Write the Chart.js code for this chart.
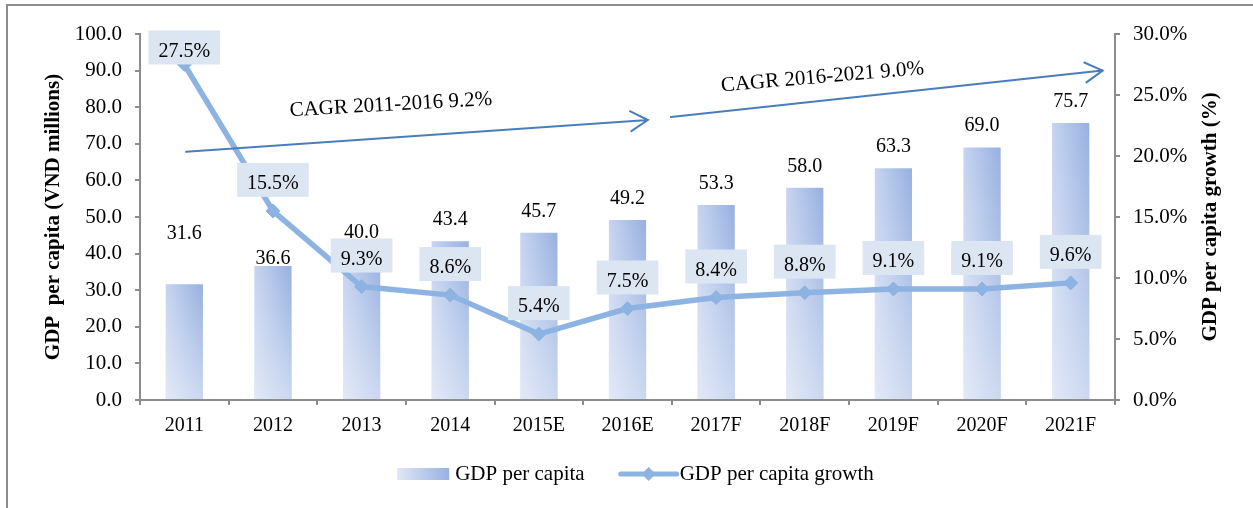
<!DOCTYPE html>
<html>
<head>
<meta charset="utf-8">
<title>GDP per capita</title>
<style>
  html, body { margin: 0; padding: 0; background: #fff; }
  #wrap { width: 1253px; height: 508px; }
</style>
</head>
<body>
<div id="wrap"><canvas id="gdpChart"></canvas></div>
<script src="https://cdn.jsdelivr.net/npm/chart.js@4/dist/chart.umd.min.js"></script>
<script>
// categories and series
var years = ['2011', '2012', '2013', '2014', '2015E', '2016E', '2017F', '2018F', '2019F', '2020F', '2021F'];
var gdpPerCapita = [31.6, 36.6, 40.0, 43.4, 45.7, 49.2, 53.3, 58.0, 63.3, 69.0, 75.7];
var gdpGrowth = [27.5, 15.5, 9.3, 8.6, 5.4, 7.5, 8.4, 8.8, 9.1, 9.1, 9.6];
var cagrNotes = ['CAGR 2011-2016 9.2%', 'CAGR 2016-2021 9.0%'];
var seriesNames = ['GDP per capita', 'GDP per capita growth'];
var axisTitles = ['GDP  per capita (VND millions)', 'GDP per capita growth (%)'];

var serif = '"Liberation Serif", "Times New Roman", serif';
var axisGray = '#8c8c8c';
var lineBlue = '#8db3e2';
var arrowBlue = '#4a7ebb';
var barShare = 0.42;

// how far each value label sits above its mark
var barLabelLift = [52, 9, 23, 23, 23, 23, 23, 23, 23, 23, 23];
var growthLabelLift = [17, 31, 31, 31, 31, 31, 31, 31, 31, 31, 31];

// CAGR arrows, in (category index, left-axis value)
var cagrArrows = [
  { from: [0.02, 67.8], to: [5.23, 76.5], text: [2.33, 80.6], angle: -3.2 },
  { from: [5.49, 77.3], to: [10.36, 90.0], text: [7.2, 88.2], angle: -4.9 }
];

function barGradient(ctx) {
  var chart = ctx.chart, x = chart.scales.x;
  if (!x || ctx.dataIndex === undefined) return '#b4c6ea';
  var cx = x.getPixelForValue(ctx.dataIndex);
  var half = x.width / years.length * barShare / 2;
  if (!isFinite(cx) || !isFinite(half)) return '#b4c6ea';
  var g = chart.ctx.createLinearGradient(cx - half, 0, cx + half, 0);
  g.addColorStop(0, '#c6d4f0');
  g.addColorStop(1, '#97b0e0');
  return g;
}

// lighten the lower part of each bar
var barSheen = {
  id: 'barSheen',
  afterDatasetDraw: function (chart, args) {
    if (args.index !== 0) return;
    var c = chart.ctx;
    c.save();
    args.meta.data.forEach(function (bar) {
      var p = bar.getProps(['x', 'y', 'base', 'width'], true);
      if (!isFinite(p.y) || !isFinite(p.base)) return;
      var g = c.createLinearGradient(0, p.base, 0, p.y);
      g.addColorStop(0, 'rgba(255,255,255,0.5)');
      g.addColorStop(1, 'rgba(255,255,255,0)');
      c.fillStyle = g;
      c.fillRect(p.x - p.width / 2, p.y, p.width, p.base - p.y);
    });
    c.restore();
  }
};

var frame = {
  id: 'frame',
  beforeDraw: function (chart) {
    var c = chart.ctx;
    c.save();
    c.fillStyle = '#fff';
    c.fillRect(0, 0, chart.width, chart.height);
    c.strokeStyle = axisGray;
    c.lineWidth = 2;
    c.beginPath();
    c.moveTo(7, chart.height);
    c.lineTo(7, 5);
    c.lineTo(chart.width, 5);
    c.stroke();
    c.restore();
  }
};

var valueLabels = {
  id: 'valueLabels',
  afterDatasetsDraw: function (chart) {
    var c = chart.ctx;
    c.save();
    c.font = '20px ' + serif;
    c.textAlign = 'center';
    c.textBaseline = 'alphabetic';
    c.fillStyle = '#000';
    chart.getDatasetMeta(0).data.forEach(function (bar, i) {
      c.fillText(gdpPerCapita[i].toFixed(1), bar.x, bar.y - barLabelLift[i] + 7);
    });
    chart.getDatasetMeta(1).data.forEach(function (pt, i) {
      var txt = gdpGrowth[i].toFixed(1) + '%';
      var w = c.measureText(txt).width + 20, h = 34;
      var cy = pt.y - growthLabelLift[i];
      c.fillStyle = '#dce6f2';
      c.fillRect(pt.x - w / 2, cy - h / 2, w, h);
      c.fillStyle = '#000';
      c.fillText(txt, pt.x, cy + 9);
    });
    c.restore();
  }
};

function drawArrow(c, x0, y0, x1, y1) {
  var a = Math.atan2(y1 - y0, x1 - x0), len = 20, spread = Math.PI / 6;
  c.beginPath();
  c.moveTo(x0, y0);
  c.lineTo(x1, y1);
  c.moveTo(x1 - len * Math.cos(a - spread), y1 - len * Math.sin(a - spread));
  c.lineTo(x1, y1);
  c.lineTo(x1 - len * Math.cos(a + spread), y1 - len * Math.sin(a + spread));
  c.stroke();
}

var extras = {
  id: 'extras',
  afterDraw: function (chart) {
    var c = chart.ctx, x = chart.scales.x, y = chart.scales.y, area = chart.chartArea;
    c.save();
    // CAGR arrows and notes
    c.strokeStyle = arrowBlue;
    c.lineWidth = 2;
    c.lineCap = 'round';
    c.fillStyle = '#000';
    c.font = '21px ' + serif;
    c.textAlign = 'center';
    c.textBaseline = 'middle';
    cagrArrows.forEach(function (a, i) {
      drawArrow(c, x.getPixelForValue(a.from[0]), y.getPixelForValue(a.from[1]),
        x.getPixelForValue(a.to[0]), y.getPixelForValue(a.to[1]));
      c.save();
      c.translate(x.getPixelForValue(a.text[0]), y.getPixelForValue(a.text[1]));
      c.rotate(a.angle * Math.PI / 180);
      c.fillText(cagrNotes[i], 0, 0);
      c.restore();
    });

    // right axis title, reading upwards
    c.save();
    c.font = 'bold 21px ' + serif;
    c.translate(1211, (area.top + area.bottom) / 2);
    c.rotate(-Math.PI / 2);
    c.fillText(axisTitles[1], 0, 0);
    c.restore();

    // legend
    var ly = 474;
    c.font = '21px ' + serif;
    c.textAlign = 'left';
    var w1 = c.measureText(seriesNames[0]).width;
    var w2 = c.measureText(seriesNames[1]).width;
    var total = 52 + 6 + w1 + 36 + 56 + 3 + w2;
    var lx = (area.left + area.right) / 2 + 8 - total / 2;
    var sw = c.createLinearGradient(lx, 0, lx + 52, 0);
    sw.addColorStop(0, '#e0e7f5');
    sw.addColorStop(1, '#98b1e1');
    c.fillStyle = sw;
    c.fillRect(lx, ly - 6, 52, 12);
    c.fillStyle = '#000';
    c.fillText(seriesNames[0], lx + 58, ly);
    var l2 = lx + 58 + w1 + 36;
    c.strokeStyle = lineBlue;
    c.lineWidth = 5;
    c.beginPath();
    c.moveTo(l2, ly);
    c.lineTo(l2 + 56, ly);
    c.stroke();
    c.fillStyle = lineBlue;
    c.beginPath();
    c.moveTo(l2 + 28 - 7, ly);
    c.lineTo(l2 + 28, ly - 7);
    c.lineTo(l2 + 28 + 7, ly);
    c.lineTo(l2 + 28, ly + 7);
    c.closePath();
    c.fill();
    c.fillStyle = '#000';
    c.fillText(seriesNames[1], l2 + 59, ly);
    c.restore();
  }
};

var tickFont = { family: serif, size: 21 };
var axisLine = { color: axisGray, width: 2 };

new Chart(document.getElementById('gdpChart'), {
  type: 'bar',
  data: {
    labels: years,
    datasets: [
      {
        label: seriesNames[0],
        data: gdpPerCapita,
        yAxisID: 'y',
        order: 1,
        backgroundColor: barGradient,
        borderWidth: 0,
        categoryPercentage: 1,
        barPercentage: barShare
      },
      {
        type: 'line',
        label: seriesNames[1],
        data: gdpGrowth,
        yAxisID: 'y1',
        order: 0,
        borderColor: lineBlue,
        backgroundColor: lineBlue,
        borderWidth: 5.5,
        pointStyle: 'rectRot',
        pointRadius: 7,
        pointBorderWidth: 1,
        tension: 0
      }
    ]
  },
  options: {
    responsive: true,
    maintainAspectRatio: false,
    animation: false,
    layout: { padding: { top: 34, left: 0, right: 0, bottom: 0 } },
    plugins: { legend: { display: false }, tooltip: { enabled: false } },
    scales: {
      x: {
        grid: { drawOnChartArea: false, tickLength: 5, color: axisGray, lineWidth: 2, offset: true },
        border: axisLine,
        ticks: { font: { family: serif, size: 20 }, color: '#000', padding: 9, maxRotation: 0, autoSkip: false },
        afterFit: function (s) { s.height = 108; }
      },
      y: {
        position: 'left',
        min: 0, max: 100,
        grid: { drawOnChartArea: false, tickLength: 5, color: axisGray, lineWidth: 2 },
        border: axisLine,
        ticks: { stepSize: 10, font: tickFont, color: '#000', padding: 13,
          callback: function (v) { return v.toFixed(1); } },
        title: { display: true, text: axisTitles[0], color: '#000',
          font: { family: serif, size: 21, weight: 'bold' }, padding: { top: 41, bottom: 0 } },
        afterFit: function (s) { s.width = 140; }
      },
      y1: {
        position: 'right',
        min: 0, max: 30,
        grid: { drawOnChartArea: false, tickLength: 5, color: axisGray, lineWidth: 2 },
        border: axisLine,
        ticks: { stepSize: 5, font: tickFont, color: '#000', padding: 13,
          callback: function (v) { return v.toFixed(1) + '%'; } },
        afterFit: function (s) { s.width = 138; }
      }
    }
  },
  plugins: [frame, barSheen, valueLabels, extras]
});
</script>
</body>
</html>
